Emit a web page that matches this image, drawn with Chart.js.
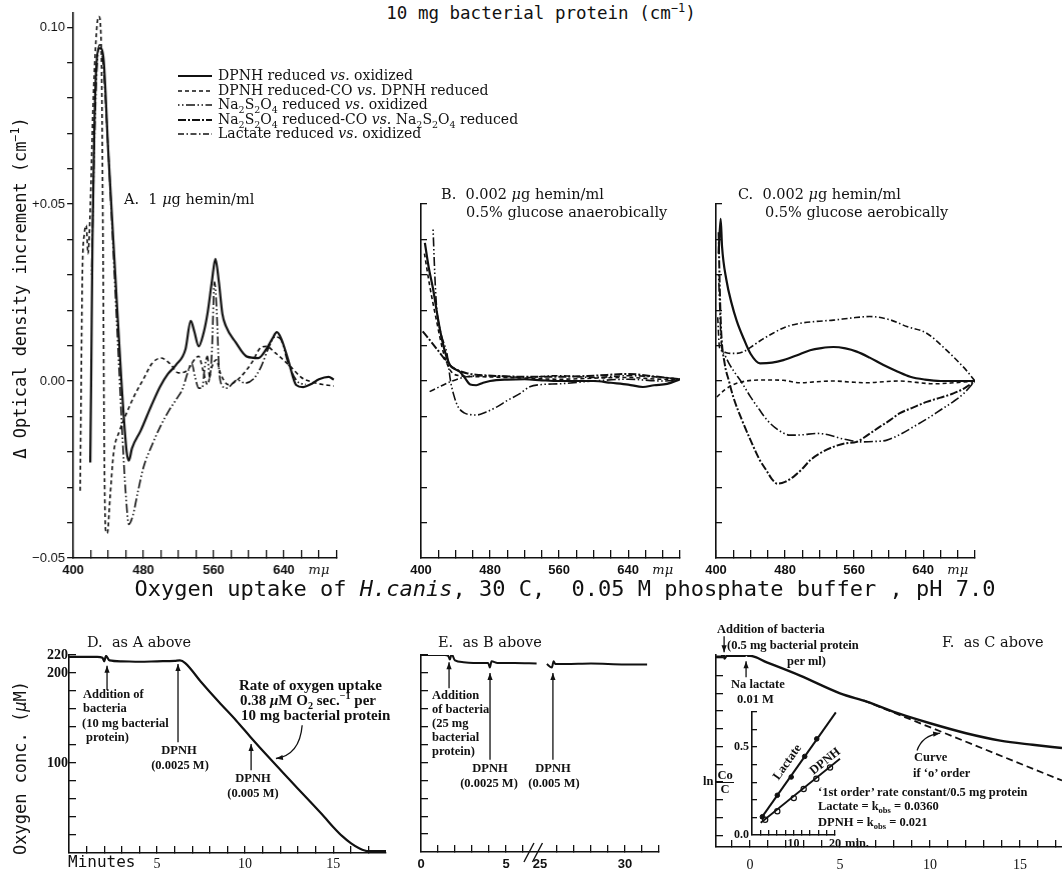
<!DOCTYPE html>
<html>
<head>
<meta charset="utf-8">
<title>H. canis difference spectra and oxygen uptake</title>
<script src="https://cdn.jsdelivr.net/npm/chart.js@4.4.1/dist/chart.umd.min.js"></script>
<style>
  html, body { margin: 0; padding: 0; background: #fff; }
  body { width: 1062px; height: 870px; overflow: hidden; }
  #page { position: relative; width: 1062px; height: 870px; }
  .box { position: absolute; }
  .t { position: absolute; white-space: pre; line-height: 1; color: #111; z-index: 2; }
  .t sub, .t sup { font-size: 68%; line-height: 0; }
  .mono { font-family: "DejaVu Sans Mono", monospace; }
  .ttl { font-size: 17.5px; }
  .mid { font-size: 22px; }
  .axt { font-size: 17px; }
  .min { font-size: 16px; }
  .leg { font-family: "DejaVu Serif", serif; font-size: 14px; }
  .pl { font-family: "DejaVu Serif", serif; font-size: 14.5px; }
  .an { font-family: "Liberation Serif", serif; font-weight: bold; font-size: 12.5px; }
  .an15 { font-family: "Liberation Serif", serif; font-weight: bold; font-size: 15px; }
</style>
</head>
<body>
<div id="page"></div>
<script>
// ---- series names (legend) ----
const seriesKeys = ['dpnh', 'co', 'na', 'naco', 'lac'];
const seriesNames = [
    'DPNH reduced vs. oxidized',
    'DPNH reduced-CO vs. DPNH reduced',
    'Na2S2O4 reduced vs. oxidized',
    'Na2S2O4 reduced-CO vs. Na2S2O4 reduced',
    'Lactate reduced vs. oxidized'
];

// ---- A. 1 ug hemin/ml (wavelength mu, optical density increment) ----
const aSolidNm = [419.5, 420.5, 422, 424, 426, 429, 432, 435, 440, 448, 455, 461, 463.5, 467, 477, 489, 499, 508, 517, 528, 534, 538, 543, 548, 553, 558, 562, 566, 570, 574, 585, 598, 611, 620, 627, 632, 637, 645, 654, 662, 670, 680, 691, 697];
const aSolidOd = [-0.023, 0.0, 0.04, 0.07, 0.087, 0.094, 0.094, 0.09, 0.065, 0.03, 0.0, -0.02, -0.0225, -0.019, -0.014, -0.007, -0.0016, 0.002, 0.0045, 0.009, 0.017, 0.014, 0.0098, 0.013, 0.019, 0.028, 0.0345, 0.028, 0.019, 0.0155, 0.011, 0.0069, 0.0065, 0.009, 0.012, 0.0138, 0.012, 0.006, -0.0011, -0.0017, -0.001, 0.0005, 0.0012, 0.0004];
const aCoNm = [408, 409, 410.5, 413, 415, 417, 419, 423, 427, 429.5, 432, 434, 435.5, 437, 439, 442, 446, 453, 461, 470, 480, 490, 500, 510, 520, 530, 538, 543, 548, 553, 558, 563, 568, 577, 590, 603, 614, 620, 630, 648, 660, 671, 685, 697];
const aCoOd = [-0.031, -0.005, 0.03, 0.042, 0.044, 0.036, 0.045, 0.08, 0.1, 0.103, 0.095, 0.04, -0.02, -0.042, -0.043, -0.033, -0.0205, -0.014, -0.009, -0.004, 0.0005, 0.005, 0.0065, 0.005, 0.0023, 0.003, 0.006, 0.007, 0.003, -0.001, 0.004, 0.006, 0.002, -0.001, 0.001, 0.005, 0.0095, 0.0098, 0.008, 0.004, 0.001, -0.0002, -0.001, -0.0014];
const aNaNm = [421, 424, 427, 430, 434, 440, 447, 452, 456, 460, 463.5, 468, 474, 480, 490, 499, 510, 518, 525, 530, 535, 539, 543, 547, 550, 553, 555.5, 558, 561, 563.5, 566, 569, 575, 587, 596, 605, 614, 622, 630, 636, 645, 655, 665];
const aNaOd = [0.03, 0.065, 0.088, 0.095, 0.09, 0.065, 0.03, 0.005, -0.015, -0.032, -0.0405, -0.038, -0.031, -0.0245, -0.018, -0.013, -0.008, -0.005, -0.002, 0.002, 0.005, 0.001, -0.002, -0.002, 0.004, 0.007, 0.001, 0.008, 0.028, 0.02, 0.004, -0.001, -0.002, 0.0003, -0.0006, 0.0005, 0.004, 0.009, 0.0125, 0.012, 0.005, 0.0, -0.001];

// ---- B. 0.002 ug hemin/ml, glucose anaerobically ----
const bSolidNm = [404.5, 409, 414, 418, 422, 427, 433.5, 440, 445, 451, 457, 464, 472, 480, 500, 520, 540, 560, 580, 600, 620, 640, 657, 670, 685, 700];
const bSolidOd = [0.039, 0.032, 0.026, 0.02, 0.0145, 0.009, 0.0045, 0.0033, 0.0026, 0.0008, -0.001, -0.0012, -0.0005, 0.0, 0.0004, 0.0005, 0.0002, 0.0, 0.0, 0.0, -0.0005, -0.001, -0.0017, -0.0012, -0.0008, 0.0005];
const bCoNm = [404, 410, 418, 426, 434, 445, 470, 520, 560, 600, 640, 680, 700];
const bCoOd = [0.036, 0.027, 0.017, 0.008, 0.003, 0.0015, 0.0012, 0.0008, 0.0005, 0.0008, 0.001, 0.0005, 0.0005];
const bNaNm = [414, 416, 418, 422, 426, 430, 434, 438, 443, 450, 457, 464.5, 475, 488, 500, 515, 526, 540, 560, 600, 640, 680, 700];
const bNaOd = [0.0428, 0.03, 0.021, 0.0145, 0.011, 0.0079, 0.0003, -0.004, -0.0073, -0.009, -0.0095, -0.0096, -0.0088, -0.0073, -0.0055, -0.0035, -0.0016, -0.001, -0.0008, 0.0, 0.0005, 0.0, 0.0005];
const bNaCoNm = [402, 412, 422, 433, 443, 453, 468, 490, 520, 560, 600, 640, 670, 700];
const bNaCoOd = [0.014, 0.011, 0.0079, 0.0045, 0.003, 0.0022, 0.0017, 0.0014, 0.0012, 0.0012, 0.0015, 0.002, 0.0013, 0.0005];
const bLacNm = [410, 420, 434, 453, 480, 520, 560, 600, 640, 680, 700];
const bLacOd = [-0.003, -0.0018, -0.0002, 0.0012, 0.0015, 0.001, 0.0015, 0.001, 0.0015, 0.001, 0.0005];

// ---- C. 0.002 ug hemin/ml, glucose aerobically ----
const cSolidNm = [403, 405.4, 407, 412, 418, 424, 432, 440, 451, 465, 478, 494, 509, 522, 536, 550, 563, 578, 594, 610, 625, 642, 660, 680, 700];
const cSolidOd = [0.036, 0.0458, 0.038, 0.0286, 0.022, 0.017, 0.012, 0.0077, 0.005, 0.0052, 0.0059, 0.0073, 0.0087, 0.0093, 0.0096, 0.0092, 0.0083, 0.0066, 0.0045, 0.0027, 0.0012, 0.0004, 0.0, 0.0, 0.0];
const cCoNm = [401, 410, 420, 435, 459, 478, 497, 517, 536, 556, 575, 594, 613, 632, 652, 676, 700];
const cCoOd = [-0.0045, -0.0025, -0.001, 0.0, 0.0003, 0.0002, -0.0005, -0.0002, 0.0, -0.0003, -0.0005, -0.0002, 0.0, -0.0004, -0.0008, -0.0005, 0.0];
const cNaNm = [403, 404.5, 406, 410, 415, 420, 430, 440, 450, 459, 472, 486, 500, 517, 530, 544, 556, 567, 582, 598, 614, 629, 645, 660, 675, 687, 700];
const cNaOd = [0.03, 0.02, 0.011, 0.0075, 0.005, 0.003, -0.0005, -0.0045, -0.008, -0.011, -0.0138, -0.0153, -0.0152, -0.0148, -0.0152, -0.0162, -0.0168, -0.0172, -0.0171, -0.0167, -0.015, -0.0129, -0.0106, -0.0082, -0.0058, -0.0035, 0.0];
const cNaCoNm = [403, 404.5, 406, 410, 415, 420, 430, 440, 450, 459, 465, 471, 480, 490, 500, 509, 522, 536, 550, 563, 576, 590, 602, 613, 628, 644, 660, 675, 688, 700];
const cNaCoOd = [0.042, 0.025, 0.014, 0.005, 0.0, -0.0045, -0.011, -0.0167, -0.022, -0.0255, -0.0278, -0.029, -0.0285, -0.027, -0.0248, -0.0224, -0.0202, -0.0186, -0.0176, -0.0172, -0.0152, -0.0129, -0.011, -0.0091, -0.0075, -0.0059, -0.0047, -0.0035, -0.002, 0.0];
const cLacNm = [402, 404, 407, 412, 418, 424, 432, 440, 452, 466, 480, 497, 515, 536, 557, 578, 600, 621, 644, 667, 690, 700];
const cLacOd = [0.018, 0.0095, 0.0085, 0.008, 0.0078, 0.0078, 0.0083, 0.0095, 0.0115, 0.0135, 0.0152, 0.0163, 0.0168, 0.0172, 0.0178, 0.0182, 0.0174, 0.0154, 0.0135, 0.0087, 0.003, 0.0];

// ---- D. oxygen uptake, as A (minutes, uM O2) ----
const dMin = [0, 1.6, 1.9, 2.0, 2.1, 2.3, 3, 4, 5, 6, 6.3, 6.6, 7.5, 8.5, 9.5, 10.3, 11.5, 12.5, 13.5, 14.5, 15, 15.5, 16, 16.5, 17, 18];
const dO2 = [218, 218, 217, 213, 219, 214, 213, 212.5, 213, 213.5, 214, 211, 190, 168, 147, 129, 103, 82, 61, 40, 29, 19, 11, 5, 2, 2];

// ---- E. oxygen uptake, as B (two stretches of record either side of the break) ----
const eMinEarly = [0, 1.4, 1.6, 1.7, 1.8, 2.0, 2.5, 3.5, 3.95, 4.05, 4.15, 4.5, 5.5, 6.8];
const eO2Early = [220, 220, 219, 215, 221, 214, 212, 211, 211, 206, 213, 211, 211, 210.5];
const eMinLate = [25.4, 25.7, 25.8, 25.9, 26.5, 28, 30, 31.3];
const eO2Late = [210, 206, 213, 210, 210, 210.5, 209.5, 209.5];

// ---- F. oxygen uptake, as C ----
const fMin = [-1.89, -1.6, -1.48, -1.42, -1.3, -1.0, -0.5, -0.28, -0.2, -0.12, 0.0, 0.93, 2.78, 5.0, 6.48, 8.33, 10.0, 12.0, 13.9, 15.7, 17.33];
const fO2 = [201, 201, 205, 199, 202, 202, 202, 202, 205, 202, 202, 194.7, 179.8, 159.9, 150.6, 136.7, 126.2, 115, 106.7, 102, 98.3];
const fZeroMin = [6.3, 17.33];
const fZeroO2 = [152, 61.8];

// ---- F inset: ln(Co/C) vs min ----
const insLacLineMin = [2.1, 20.2];
const insLacLineLn = [0.092, 0.698];
const insLacMin = [2.5, 6.1, 9.45, 12.7, 15.6];
const insLacLn = [0.104, 0.226, 0.33, 0.447, 0.547];
const insDpnhLineMin = [2.1, 21.2];
const insDpnhLineLn = [0.07, 0.434];
const insDpnhMin = [3.17, 6.1, 10.07, 12.45, 15.5, 18.8];
const insDpnhLn = [0.087, 0.135, 0.21, 0.262, 0.32, 0.384];

// ---- ticks ----
const specXTicks = [400, 420, 440, 460, 480, 500, 520, 540, 560, 580, 600, 620, 640, 660, 680, 700];
const specXLabels = ['400', '', '', '', '480', '', '', '', '560', '', '', '', '640', '', 'mμ', ''];
const aYTicks = [-0.05, -0.04, -0.03, -0.02, -0.01, 0, 0.01, 0.02, 0.03, 0.04, 0.05, 0.06, 0.07, 0.08, 0.09, 0.10];
const aYLabels = ['−0.05', '', '', '', '', '0.00', '', '', '', '', '+0.05', '', '', '', '', '0.10'];
const bcYTicks = [-0.04, -0.03, -0.02, -0.01, 0, 0.01, 0.02, 0.03, 0.04, 0.05];
const o2YTicks = [20, 40, 60, 80, 100, 120, 140, 160, 180, 200, 220];
const dYLabels = ['', '', '', '', '100', '', '', '', '', '200', '220'];
const dXTicks = [1, 2, 3, 4, 5, 6, 7, 8, 9, 10, 11, 12, 13, 14, 15, 16, 17];
const dXLabels = ['', '', '', '', '5', '', '', '', '', '10', '', '', '', '', '15', '', ''];
const eXTicks = [0, 1, 2, 3, 4, 5, 6, 7, 8, 9, 10, 11, 12, 13, 14];
const eXLabels = ['0', '', '', '', '', '5', '', '25', '', '', '', '', '30', '', ''];
const fXTicks = [-1, 0, 1, 2, 3, 4, 5, 6, 7, 8, 9, 10, 11, 12, 13, 14, 15, 16, 17];
const fXLabels = ['', '0', '', '', '', '', '5', '', '', '', '', '10', '', '', '', '', '15', '', ''];
const fYTicks = [0, 20, 40, 60, 80, 100, 120, 140, 160, 180, 200];
const insXTicks = [2, 4, 6, 8, 10, 12, 14, 16, 18, 20];
const insXLabels = ['', '', '', '', '10', '', '', '', '', '20'];
const insYTicks = [0, 0.1, 0.2, 0.3, 0.4, 0.5, 0.6, 0.7];
const insYLabels = ['0.0', '', '', '', '', '0.5', '', ''];

// ---------------------------------------------------------------
const INK = '#111';
const page = document.getElementById('page');
Chart.defaults.color = INK;
Chart.defaults.font.family = '"Liberation Sans", sans-serif';

const lineStyle = {
    dpnh: { borderDash: [], borderWidth: 2.2 },
    co:   { borderDash: [4, 3], borderWidth: 1.6 },
    na:   { borderDash: [1.5, 2.5, 1.5, 2.5, 9, 2.5], borderWidth: 1.6 },
    naco: { borderDash: [8, 2, 2, 2], borderWidth: 2 },
    lac:  { borderDash: [6, 2.5, 1.5, 2.5], borderWidth: 1.6 }
};

// the break in E's time axis: 25 min sits at axis position 7
const eAxis = t => (t < 12 ? t : t - 18);

function pts(xs, ys, map) {
    return xs.map((x, i) => ({ x: map ? map(x) : x, y: ys[i] }));
}

function curve(key, xs, ys) {
    return Object.assign({
        label: seriesNames[seriesKeys.indexOf(key)],
        data: pts(xs, ys),
        borderColor: INK,
        fill: false,
        pointRadius: 0,
        cubicInterpolationMode: 'monotone'
    }, lineStyle[key]);
}

// arrows drawn in data units of each panel
const arrowPlugin = {
    id: 'arrows',
    afterDatasetsDraw(chart, args, opts) {
        const items = (opts && opts.items) || [];
        if (!items.length) return;
        const ctx = chart.ctx, x = chart.scales.x, y = chart.scales.y;
        ctx.save();
        ctx.strokeStyle = INK;
        ctx.fillStyle = INK;
        ctx.lineWidth = 1.3;
        items.forEach(a => {
            const x1 = x.getPixelForValue(a.from[0]), y1 = y.getPixelForValue(a.from[1]);
            const x2 = x.getPixelForValue(a.to[0]), y2 = y.getPixelForValue(a.to[1]);
            let ang;
            ctx.beginPath();
            ctx.moveTo(x1, y1);
            if (a.via) {
                const cx = x.getPixelForValue(a.via[0]), cy = y.getPixelForValue(a.via[1]);
                ctx.quadraticCurveTo(cx, cy, x2, y2);
                ang = Math.atan2(y2 - cy, x2 - cx);
            } else {
                ctx.lineTo(x2, y2);
                ang = Math.atan2(y2 - y1, x2 - x1);
            }
            ctx.stroke();
            const L = 7, W = 2.6;
            ctx.beginPath();
            ctx.moveTo(x2, y2);
            ctx.lineTo(x2 - L * Math.cos(ang) + W * Math.sin(ang), y2 - L * Math.sin(ang) - W * Math.cos(ang));
            ctx.lineTo(x2 - L * Math.cos(ang) - W * Math.sin(ang), y2 - L * Math.sin(ang) + W * Math.cos(ang));
            ctx.closePath();
            ctx.fill();
        });
        ctx.restore();
    }
};

// "//" marks on a broken axis
const breakPlugin = {
    id: 'axisBreak',
    afterDraw(chart, args, opts) {
        if (!opts || !opts.at) return;
        const ctx = chart.ctx, x = chart.scales.x, bottom = chart.chartArea.bottom;
        ctx.save();
        ctx.strokeStyle = INK;
        ctx.lineWidth = 1.4;
        opts.at.forEach(v => {
            const px = x.getPixelForValue(v);
            ctx.beginPath();
            ctx.moveTo(px - 5, bottom + 10);
            ctx.lineTo(px + 5, bottom - 9);
            ctx.stroke();
        });
        ctx.restore();
    }
};
Chart.register(arrowPlugin, breakPlugin);

function axis(c, which, size) {
    const hide = c.hide || [];
    return {
        type: 'linear',
        position: which === 'x' ? 'bottom' : 'left',
        min: c.min,
        max: c.max,
        afterBuildTicks: s => { s.ticks = c.ticks.map(v => ({ value: v })); },
        afterFit: s => {
            if (which === 'x') s.height = size; else s.width = size;
            // keep the plot area where it is set, whatever the label overhang
            s.paddingLeft = 0; s.paddingRight = 0; s.paddingTop = 0; s.paddingBottom = 0;
        },
        border: { display: true, color: INK, width: 1.6 },
        grid: {
            display: true,
            drawOnChartArea: false,
            drawTicks: true,
            tickLength: c.len,
            lineWidth: 1.3,
            color: ctx => (ctx.tick && hide.includes(ctx.tick.value)) ? 'rgba(0,0,0,0)' : INK
        },
        ticks: {
            autoSkip: false,
            maxRotation: 0,
            minRotation: 0,
            padding: c.pad || 0,
            color: INK,
            font: c.font || { size: 12 },
            callback: (v, i) => (c.labels ? c.labels[i] || '' : '')
        }
    };
}

function panel(area, opt) {
    const yW = opt.yW, xH = opt.xH, padT = opt.padT || 4, padR = opt.padR || 4;
    const box = document.createElement('div');
    box.className = 'box';
    box.style.left = (area.l - yW) + 'px';
    box.style.top = (area.t - padT) + 'px';
    box.style.width = (area.r - area.l + yW + padR) + 'px';
    box.style.height = (area.b - area.t + padT + xH) + 'px';
    const cv = document.createElement('canvas');
    box.appendChild(cv);
    page.appendChild(box);
    return new Chart(cv.getContext('2d'), {
        type: 'line',
        data: { datasets: opt.datasets },
        options: {
            responsive: true,
            maintainAspectRatio: false,
            animation: false,
            devicePixelRatio: 1,
            layout: { autoPadding: false, padding: { top: padT, right: padR, left: 0, bottom: 0 } },
            plugins: {
                legend: { display: false },
                tooltip: { enabled: false },
                arrows: { items: opt.arrows || [] },
                axisBreak: { at: opt.breaks || null }
            },
            elements: { point: { radius: 0 }, line: { borderColor: INK } },
            scales: { x: axis(opt.x, 'x', xH), y: axis(opt.y, 'y', yW) }
        }
    });
}

const specXFont = ctx => (ctx.tick && ctx.tick.value === 680)
    ? { family: '"DejaVu Serif", serif', size: 13, style: 'italic' }
    : { family: '"Liberation Sans", sans-serif', size: 13, weight: 'bold' };
const specX = { min: 400, max: 700, ticks: specXTicks, labels: specXLabels, len: -8, pad: 13, font: specXFont };

// ---- A ----
panel({ l: 73, t: 13, r: 335.5, b: 558 }, {
    yW: 45, xH: 28, padT: 6, padR: 20,
    x: specX,
    y: { min: -0.05, max: 0.104, ticks: aYTicks, labels: aYLabels, len: 6, pad: 2,
         font: { family: '"Liberation Sans", sans-serif', size: 13 } },
    datasets: [curve('dpnh', aSolidNm, aSolidOd), curve('co', aCoNm, aCoOd), curve('na', aNaNm, aNaOd)]
});

// ---- B ----
panel({ l: 421, t: 204, r: 680, b: 558 }, {
    yW: 20, xH: 28, padT: 4, padR: 20,
    x: specX,
    y: { min: -0.05, max: 0.05, ticks: bcYTicks, len: -6 },
    datasets: [curve('dpnh', bSolidNm, bSolidOd), curve('co', bCoNm, bCoOd), curve('na', bNaNm, bNaOd),
               curve('naco', bNaCoNm, bNaCoOd), curve('lac', bLacNm, bLacOd)]
});

// ---- C ----
panel({ l: 716, t: 204, r: 975, b: 558 }, {
    yW: 20, xH: 28, padT: 4, padR: 20,
    x: specX,
    y: { min: -0.05, max: 0.05, ticks: bcYTicks, len: -6 },
    datasets: [curve('dpnh', cSolidNm, cSolidOd), curve('co', cCoNm, cCoOd), curve('na', cNaNm, cNaOd),
               curve('naco', cNaCoNm, cNaCoOd), curve('lac', cLacNm, cLacOd)]
});

const serifTick = { family: '"Liberation Serif", serif', size: 14 };

// ---- D ----
panel({ l: 69, t: 655, r: 386, b: 853 }, {
    yW: 34, xH: 17, padT: 12, padR: 4,
    x: { min: 0, max: 18, ticks: dXTicks, labels: dXLabels, len: -7, pad: 10, font: serifTick },
    y: { min: 0, max: 220, ticks: o2YTicks, labels: dYLabels, len: -7, pad: 8,
         font: { family: '"Liberation Serif", serif', size: 14, weight: 'bold' } },
    datasets: [{ data: pts(dMin, dO2), borderColor: INK, borderWidth: 2.2, pointRadius: 0, cubicInterpolationMode: 'monotone' }],
    arrows: [
        { from: [2.16, 181], to: [2.16, 208] },
        { from: [6.19, 123], to: [6.19, 210] },
        { from: [10.34, 92], to: [10.34, 121] },
        { from: [13.24, 142], via: [13.1, 109], to: [11.75, 105] }
    ]
});

// ---- E ----
panel({ l: 421, t: 655, r: 659, b: 852 }, {
    yW: 20, xH: 18, padT: 4, padR: 6,
    x: { min: 0, max: 14, ticks: eXTicks, labels: eXLabels, len: -7, pad: 12, hide: [0, 7],
         font: { family: '"Liberation Sans", sans-serif', size: 13, weight: 'bold' } },
    y: { min: 0, max: 220, ticks: o2YTicks, len: -7 },
    datasets: [
        { data: pts(eMinEarly, eO2Early, eAxis), borderColor: INK, borderWidth: 2, pointRadius: 0, cubicInterpolationMode: 'monotone' },
        { data: pts(eMinLate, eO2Late, eAxis), borderColor: INK, borderWidth: 2, pointRadius: 0, cubicInterpolationMode: 'monotone' }
    ],
    arrows: [
        { from: [1.65, 183], to: [1.65, 212] },
        { from: [4.06, 103], to: [4.06, 200] },
        { from: [7.76, 103], to: [7.76, 200] }
    ],
    breaks: [6.35, 6.85]
});

// ---- F ----
panel({ l: 716, t: 655, r: 1062, b: 847 }, {
    yW: 20, xH: 23, padT: 32, padR: 0,
    x: { min: -1.89, max: 17.33, ticks: fXTicks, labels: fXLabels, len: -7, pad: 17, font: serifTick },
    y: { min: -13, max: 203, ticks: fYTicks, len: -7 },
    datasets: [
        { data: pts(fMin, fO2), borderColor: INK, borderWidth: 2.4, pointRadius: 0, cubicInterpolationMode: 'monotone' },
        { data: pts(fZeroMin, fZeroO2), borderColor: INK, borderWidth: 1.8, borderDash: [7, 4], pointRadius: 0 }
    ],
    arrows: [
        { from: [-1.44, 224], to: [-1.44, 206] },
        { from: [-0.22, 178], to: [-0.22, 196] },
        { from: [9.28, 95.5], via: [9.56, 112.4], to: [10.56, 115] }
    ]
});

// ---- F inset ----
panel({ l: 752, t: 712, r: 835, b: 835 }, {
    yW: 26, xH: 14, padT: 4, padR: 12,
    x: { min: 0, max: 20, ticks: insXTicks, labels: insXLabels, len: -5, pad: 7,
         font: { family: '"Liberation Serif", serif', size: 12, weight: 'bold' } },
    y: { min: 0, max: 0.7, ticks: insYTicks, labels: insYLabels, len: -5, pad: 8, hide: [0],
         font: { family: '"Liberation Serif", serif', size: 12, weight: 'bold' } },
    datasets: [
        { data: pts(insLacLineMin, insLacLineLn), borderColor: INK, borderWidth: 2, pointRadius: 0, clip: false },
        { data: pts(insDpnhLineMin, insDpnhLineLn), borderColor: INK, borderWidth: 1.8, pointRadius: 0, clip: false },
        { data: pts(insLacMin, insLacLn), showLine: false, pointRadius: 2.3, pointBackgroundColor: INK, pointBorderColor: INK },
        { data: pts(insDpnhMin, insDpnhLn), showLine: false, pointRadius: 2.6, pointBackgroundColor: '#fff', pointBorderColor: INK, pointBorderWidth: 1.2 }
    ]
});

// ---------------- text ----------------
function put(html, x, y, cls, anchor, rot) {
    const d = document.createElement('div');
    d.className = 't ' + cls;
    d.innerHTML = html;
    d.style.left = x + 'px';
    d.style.top = y + 'px';
    const tx = anchor === 'c' ? '-50%' : (anchor === 'r' ? '-100%' : '0');
    d.style.transform = 'translate(' + tx + ', -50%)' + (rot ? ' rotate(' + rot + 'deg)' : '');
    page.appendChild(d);
}

const fmtName = s => s.replace(/Na2S2O4/g, 'Na<sub>2</sub>S<sub>2</sub>O<sub>4</sub>').replace(/ vs\. /g, ' <i>vs.</i> ');

// legend
seriesKeys.forEach((k, i) => {
    const st = lineStyle[k];
    const svg = '<svg width="34" height="8" style="vertical-align:middle;margin-right:6px">' +
        '<line x1="0" y1="4" x2="34" y2="4" stroke="#111" stroke-width="' + st.borderWidth +
        '" stroke-dasharray="' + (st.borderDash.join(' ') || 'none') + '"/></svg>';
    put(svg + fmtName(seriesNames[i]), 178, 75 + i * 14.5, 'leg', 'l');
});

// titles
put('10 mg bacterial protein (cm<sup>−1</sup>)', 541, 14, 'mono ttl', 'c');
put('Oxygen uptake of <i>H.canis</i>, 30 C,  0.05 M phosphate buffer , pH 7.0', 565, 589, 'mono mid', 'c');
put('Δ Optical density increment (cm<sup>−1</sup>)', 20, 288, 'mono axt', 'c', -90);
put('Oxygen conc. (<i>μ</i>M)', 20, 768, 'mono axt', 'c', -90);
put('Minutes', 68, 862, 'mono min', 'l');

// panel labels
put('A.  1 <i>μ</i>g hemin/ml', 124, 199, 'pl', 'l');
put('B.  0.002 <i>μ</i>g hemin/ml', 441, 194, 'pl', 'l');
put('0.5% glucose anaerobically', 466, 212, 'pl', 'l');
put('C.  0.002 <i>μ</i>g hemin/ml', 738, 194, 'pl', 'l');
put('0.5% glucose aerobically', 765, 212, 'pl', 'l');
put('D.  as A above', 87, 642, 'pl', 'l');
put('E.  as B above', 438, 642, 'pl', 'l');
put('F.  as C above', 942, 642, 'pl', 'l');

// D notes
put('Addition of', 83, 694, 'an', 'l');
put('bacteria', 83, 708, 'an', 'l');
put('(10 mg bacterial', 82, 723, 'an', 'l');
put('protein)', 86, 737, 'an', 'l');
put('DPNH', 179, 750, 'an', 'c');
put('(0.0025 M)', 180, 765, 'an', 'c');
put('Rate of oxygen uptake', 239, 685, 'an15', 'l');
put('0.38 <i>μ</i>M O<sub>2</sub> sec.<sup>−1</sup> per', 240, 700, 'an15', 'l');
put('10 mg bacterial protein', 241, 715, 'an15', 'l');
put('DPNH', 253, 778, 'an', 'c');
put('(0.005 M)', 253, 793, 'an', 'c');

// E notes
put('Addition', 432, 695, 'an', 'l');
put('of bacteria', 432, 709, 'an', 'l');
put('(25 mg', 432, 723, 'an', 'l');
put('bacterial', 432, 737, 'an', 'l');
put('protein)', 432, 751, 'an', 'l');
put('DPNH', 490, 768, 'an', 'c');
put('(0.0025 M)', 489, 783, 'an', 'c');
put('DPNH', 553, 768, 'an', 'c');
put('(0.005 M)', 554, 783, 'an', 'c');

// F notes
put('Addition of bacteria', 717, 629, 'an', 'l');
put('(0.5 mg bacterial protein', 727, 645, 'an', 'l');
put('per ml)', 787, 661, 'an', 'l');
put('Na lactate', 731, 684, 'an', 'l');
put('0.01 M', 737, 699, 'an', 'l');
put('Curve', 914, 757, 'an', 'l');
put('if ‘o’ order', 913, 773, 'an', 'l');
put('‘1st order’ rate constant/0.5 mg protein', 818, 792, 'an', 'l');
put('Lactate = k<sub>obs</sub> = 0.0360', 818, 806, 'an', 'l');
put('DPNH = k<sub>obs</sub> = 0.021', 818, 822, 'an', 'l');

// inset notes
put('min.', 845, 843, 'an', 'l');
put('ln<span style="display:inline-block;vertical-align:middle;text-align:center;margin-left:3px">' +
    '<span style="display:block;border-bottom:1px solid #111;padding:0 1px">Co</span>' +
    '<span style="display:block">C</span></span>', 703, 782, 'an', 'l');
put('Lactate', 787, 762, 'an', 'c', -55);
put('DPNH', 825, 761, 'an', 'c', -39);
</script>
</body>
</html>
